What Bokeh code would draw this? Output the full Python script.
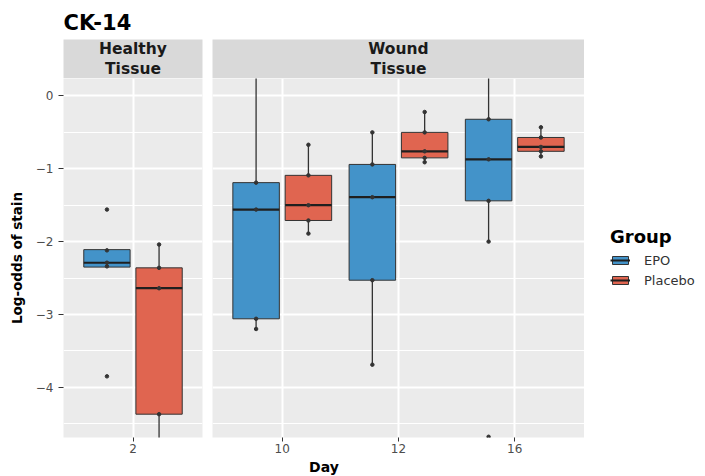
from bokeh.plotting import figure
from bokeh.models import (ColumnDataSource, FactorRange, Range1d, FixedTicker,
                          Legend, LegendItem)
from bokeh.transform import dodge
from bokeh.layouts import row, column
from bokeh.core.properties import value
from bokeh.embed import file_html
from bokeh.resources import INLINE

# ---------------- data ----------------
chart_title = "CK-14"
y_title = "Log-odds of stain"
x_title = "Day"
strip_labels = ["Healthy\nTissue", "Wound\nTissue"]
healthy_days = ["2"]
wound_days = ["10", "12", "16"]
groups = ["EPO", "Placebo"]
group_colors = ["#4393C9", "#E06550"]
legend_title = "Group"

y_ticks = [-4, -3, -2, -1, 0]
y_tick_labels = ["\u22124", "\u22123", "\u22122", "\u22121", "0"]
y_minor = [-4.5, -3.5, -2.5, -1.5, -0.5]

# box statistics per (day, group)
box_day = ["2", "2", "10", "10", "12", "12", "16", "16"]
box_group = ["EPO", "Placebo"] * 4
q1 = [-2.35, -4.37, -3.06, -1.71, -2.53, -0.85, -1.44, -0.76]
median = [-2.29, -2.64, -1.56, -1.50, -1.39, -0.76, -0.87, -0.70]
q3 = [-2.11, -2.36, -1.19, -1.09, -0.94, -0.50, -0.32, -0.57]
w_low = [-2.35, -4.95, -3.20, -1.89, -3.69, -0.91, -2.00, -0.83]
w_high = [-2.11, -2.04, 0.45, -0.67, -0.50, -0.22, 0.40, -0.43]

# observed points
pt_day = (["2"] * 5 + ["2"] * 4 + ["10"] * 4 + ["10"] * 5 +
          ["12"] * 5 + ["12"] * 5 + ["16"] * 5 + ["16"] * 5)
pt_group = (["EPO"] * 5 + ["Placebo"] * 4 + ["EPO"] * 4 + ["Placebo"] * 5 +
            ["EPO"] * 5 + ["Placebo"] * 5 + ["EPO"] * 5 + ["Placebo"] * 5)
pt_value = ([-1.56, -2.12, -2.29, -2.34, -3.85] +
            [-2.04, -2.36, -2.64, -4.37] +
            [-1.19, -1.56, -3.06, -3.20] +
            [-0.67, -1.09, -1.50, -1.71, -1.89] +
            [-0.50, -0.94, -1.39, -2.53, -3.69] +
            [-0.22, -0.50, -0.76, -0.85, -0.91] +
            [-0.32, -0.87, -1.44, -2.00, -4.68] +
            [-0.43, -0.57, -0.70, -0.76, -0.83])

# ---------------- styling / layout constants ----------------
FONT = "DejaVu Sans"
PANEL_BG = "#EBEBEB"
STRIP_BG = "#D9D9D9"
DODGE = 0.225
BOX_W = 0.4
TOP_H = 78        # title + strip height
PANEL_H = 379     # panel + x tick labels
XLAB_H = 19
LEFT = 63
GAP = 5

y_range = Range1d(-4.69, 0.24)


def base_fig(**kw):
    return figure(output_backend="svg", toolbar_location=None,
                  outline_line_color=None, border_fill_color="white", **kw)


def make_strip(xr, text, width, left, right):
    s = base_fig(width=width, height=TOP_H, x_range=xr, y_range=Range1d(0, 1),
                 x_axis_location=None, y_axis_location=None,
                 min_border_left=left, min_border_right=right,
                 min_border_top=39, min_border_bottom=0,
                 background_fill_color=STRIP_BG)
    s.grid.visible = False
    center = xr.factors[len(xr.factors) // 2]
    s.text(x=[center], y=[0.5], text=[text], text_align="center", text_baseline="middle",
           text_font=value(FONT), text_font_size="15.5px", text_font_style="bold",
           text_color="#1A1A1A", text_line_height=1.1)
    return s


def make_panel(days, xr, width, left, right, show_y):
    p = base_fig(width=width, height=PANEL_H, x_range=xr, y_range=y_range,
                 y_axis_location="left" if show_y else None,
                 min_border_left=left, min_border_right=right,
                 min_border_top=0, min_border_bottom=20,
                 background_fill_color=PANEL_BG)
    for g, col, off in zip(groups, group_colors, [-DODGE, DODGE]):
        idx = [i for i in range(len(box_day)) if box_day[i] in days and box_group[i] == g]
        src = ColumnDataSource(dict(day=[box_day[i] for i in idx], q1=[q1[i] for i in idx],
                                    median=[median[i] for i in idx], q3=[q3[i] for i in idx],
                                    lo=[w_low[i] for i in idx], hi=[w_high[i] for i in idx]))
        xc = dodge("day", off, range=xr)
        p.segment(x0=xc, x1=xc, y0="lo", y1="q1", source=src, line_color="#333333", line_width=1.3)
        p.segment(x0=xc, x1=xc, y0="q3", y1="hi", source=src, line_color="#333333", line_width=1.3)
        p.vbar(x=xc, width=BOX_W, bottom="q1", top="q3", source=src,
               fill_color=col, line_color="#333333", line_width=1)
        p.segment(x0=dodge("day", off - BOX_W / 2, range=xr), x1=dodge("day", off + BOX_W / 2, range=xr),
                  y0="median", y1="median", source=src, line_color="#1F1F1F", line_width=2.2)
        pidx = [i for i in range(len(pt_day)) if pt_day[i] in days and pt_group[i] == g]
        psrc = ColumnDataSource(dict(day=[pt_day[i] for i in pidx], v=[pt_value[i] for i in pidx]))
        p.scatter(x=xc, y="v", source=psrc, size=3.5, fill_color="#333333", line_color="#333333")

    p.xaxis.major_label_text_font_size = "12px"
    p.xaxis.major_label_text_color = "#4D4D4D"
    p.xaxis.major_label_text_font = FONT
    p.xaxis.major_tick_line_color = "#333333"
    p.xaxis.major_tick_out = 4
    p.xaxis.major_tick_in = 0
    p.xaxis.major_label_standoff = 2
    p.xaxis.axis_line_color = None
    if show_y:
        p.yaxis.ticker = FixedTicker(ticks=y_ticks, minor_ticks=y_minor)
        p.yaxis.major_label_overrides = {t_: l_ for t_, l_ in zip(y_ticks, y_tick_labels)}
        p.yaxis.major_label_text_font_size = "12px"
        p.yaxis.major_label_text_color = "#4D4D4D"
        p.yaxis.major_label_text_font = FONT
        p.yaxis.major_tick_line_color = "#333333"
        p.yaxis.major_tick_out = 5
        p.yaxis.major_tick_in = 0
        p.yaxis.minor_tick_line_color = None
        p.yaxis.major_label_standoff = 5
        p.yaxis.axis_line_color = None
        p.yaxis.axis_label = y_title
        p.yaxis.axis_label_text_font = FONT
        p.yaxis.axis_label_text_font_size = "13.5px"
        p.yaxis.axis_label_text_font_style = "bold"
        p.yaxis.axis_label_text_color = "black"
        p.yaxis.axis_label_standoff = 8
    p.xgrid.grid_line_color = "white"
    p.xgrid.grid_line_width = 2
    p.ygrid.ticker = FixedTicker(ticks=y_ticks, minor_ticks=y_minor)
    p.ygrid.grid_line_color = "white"
    p.ygrid.grid_line_width = 2
    p.ygrid.minor_grid_line_color = "white"
    p.ygrid.minor_grid_line_width = 1
    return p


xr1 = FactorRange(factors=healthy_days, range_padding=0.1, range_padding_units="absolute")
xr2 = FactorRange(factors=wound_days, range_padding=0.1, range_padding_units="absolute")
W1 = LEFT + 139 + GAP
W2 = GAP + 372

s1 = make_strip(xr1, strip_labels[0], W1, LEFT, GAP)
s2 = make_strip(xr2, strip_labels[1], W2, GAP, 0)
s1.title.text = chart_title
s1.title.text_font = FONT
s1.title.text_font_size = "21px"
s1.title.text_font_style = "bold"
s1.title.text_color = "black"
s1.title.standoff = 10

p1 = make_panel(healthy_days, xr1, W1, LEFT, GAP, True)
p2 = make_panel(wound_days, xr2, W2, GAP, 0, False)

# x axis title spanning both panels
xl = base_fig(width=W1 + W2, height=XLAB_H, x_range=Range1d(0, 1), y_range=Range1d(0, 1),
              x_axis_location=None, y_axis_location=None,
              min_border_left=LEFT, min_border_right=0, min_border_top=0, min_border_bottom=0,
              background_fill_color="white")
xl.grid.visible = False
xl.text(x=[0.5], y=[0.5], text=[x_title], text_align="center", text_baseline="middle",
        text_font=value(FONT), text_font_size="14px", text_font_style="bold", text_color="black")

# legend panel (key glyphs styled like the boxes; their data lie outside this panel's view)
LW = 700 - (W1 + W2)
lf = base_fig(width=LW, height=TOP_H + PANEL_H + XLAB_H, x_range=Range1d(0, 1), y_range=Range1d(0, 1),
              x_axis_location=None, y_axis_location=None, min_border=0,
              background_fill_color="white")
lf.grid.visible = False
items = []
for g, col in zip(groups, group_colors):
    key_src = ColumnDataSource(dict(x=[-1.0], y=[-1.0]))
    b = lf.vbar(x="x", top="y", bottom="y", width=0.1, source=key_src,
                fill_color=col, line_color="#333333", line_width=1)
    m = lf.segment(x0="x", y0="y", x1="x", y1="y", source=key_src, line_color="#1F1F1F", line_width=2)
    items.append(LegendItem(label=g, renderers=[b, m]))
legend = Legend(items=items, title=legend_title, location=(26, 187), padding=0, margin=0,
                border_line_color=None, background_fill_alpha=0,
                title_text_font=FONT, title_text_font_size="18px", title_text_font_style="bold",
                title_text_color="black", title_standoff=4,
                label_text_font=FONT, label_text_font_size="13px", label_text_color="#333333",
                glyph_width=20, glyph_height=10, label_height=18, spacing=2, label_standoff=14)
lf.add_layout(legend)

left = column(row(s1, s2, spacing=0), row(p1, p2, spacing=0), xl, spacing=0)
layout = row(left, lf, spacing=0)
open("out.html", "w").write(file_html(layout, INLINE))
